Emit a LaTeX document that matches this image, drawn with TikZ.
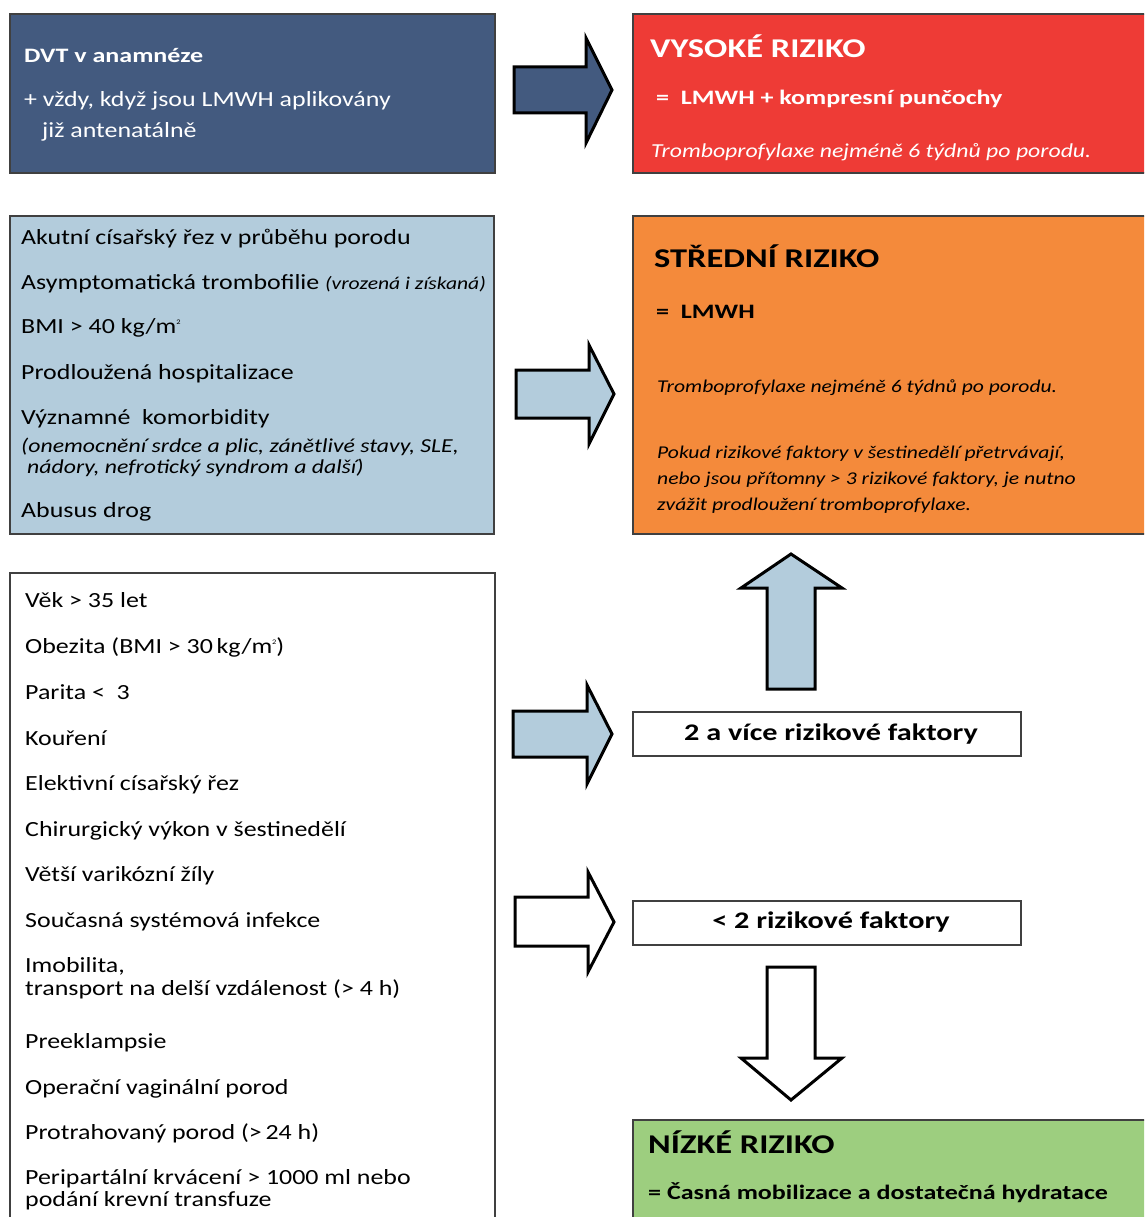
\documentclass[tikz,border=0pt]{standalone}
\usepackage{fontspec}
\setmainfont{Carlito}[FakeStretch=1.2,BoldFeatures={FakeStretch=1.27},BoldItalicFeatures={FakeStretch=1.27}]
\definecolor{dblue}{HTML}{435A7F}
\definecolor{rred}{HTML}{EE3B36}
\definecolor{lblue}{HTML}{B3CCDC}
\definecolor{oorange}{HTML}{F48A3B}
\definecolor{ggreen}{HTML}{9DCE7F}
\definecolor{bordr}{HTML}{404040}
\newcommand{\sqm}{m\raisebox{0.85ex}{\fontsize{7}{7}\selectfont 2}}
\begin{document}
\begin{tikzpicture}[x=1pt,y=-1pt,
  boxstyle/.style={draw=bordr,line width=1.2pt},
  blockarrow/.style={draw=black,line width=3pt,line join=miter},
  txt/.style={anchor=base west,inner sep=0pt,font=\fontsize{21.6}{25}\selectfont},
  itxt/.style={anchor=base west,inner sep=0pt,font=\fontsize{19.8}{23}\selectfont\itshape},
  oitxt/.style={anchor=base west,inner sep=0pt,font=\fontsize{18}{22}\selectfont\itshape},
  ttl/.style={anchor=base west,inner sep=0pt,font=\fontsize{27.1}{31}\selectfont\bfseries},
  btxt/.style={anchor=base west,inner sep=0pt,font=\fontsize{20.5}{24}\selectfont\bfseries},
  lbl/.style={inner sep=0pt,font=\fontsize{23.8}{28}\selectfont\bfseries},
]
\clip (0,0) rectangle (1144,1217);
\fill[white] (0,0) rectangle (1144,1217);

% ---- boxes
\draw[boxstyle,fill=dblue] (10,14) rectangle (495,173);
\draw[boxstyle,fill=rred] (633,14) rectangle (1160,173);
\draw[boxstyle,fill=lblue] (10,216) rectangle (494,534);
\draw[boxstyle,fill=oorange] (633,216) rectangle (1160,534);
\draw[boxstyle,fill=white] (10,573) rectangle (495,1240);
\draw[boxstyle,fill=white] (633,712) rectangle (1021,756);
\draw[boxstyle,fill=white] (633,901) rectangle (1021,945);
\draw[boxstyle,fill=ggreen] (633,1120) rectangle (1160,1240);

% ---- box 1 text
\node[btxt,text=white] (t1) at (24,63) {DVT v anamnéze};
\node[txt,text=white] (t2) at (24,107) {+ vždy, když jsou LMWH aplikovány};
\node[txt,text=white] (t3) at (42,138) {již antenatálně};

% ---- red box
\node[ttl,text=white] (r1) at (650,58) {VYSOKÉ RIZIKO};
\node[btxt,text=white] (r2) at (656,105) {=\ \ LMWH + kompresní punčochy};
\node[itxt,text=white] (r3) at (651,158) {Tromboprofylaxe nejméně 6 týdnů po porodu.};

% ---- box 2 text
\node[txt] (b1) at (21,244) {Akutní císařský řez v průběhu porodu};
\node[txt] (b2) at (21,289) {Asymptomatická trombofilie {\fontsize{18}{22}\selectfont\itshape (vrozená i získaná)}};
\node[txt] (b3) at (21,333) {BMI > 40 kg/\sqm};
\node[txt] (b4) at (21,379) {Prodloužená hospitalizace};
\node[txt] (b5) at (21,424) {Významné\ \ komorbidity};
\node[itxt] (b6) at (21,452) {(onemocnění srdce a plic, zánětlivé stavy, SLE,};
\node[itxt] (b7) at (27,473) {nádory, nefrotický syndrom a další)};
\node[txt] (b8) at (21,517) {Abusus drog};

% ---- orange box
\node[ttl] (o1) at (654,267) {STŘEDNÍ RIZIKO};
\node[btxt] (o2) at (656,318) {=\ \ LMWH};
\node[oitxt] (o3) at (657,392) {Tromboprofylaxe nejméně 6 týdnů po porodu.};
\node[oitxt] (o4) at (657,458) {Pokud rizikové faktory v šestinedělí přetrvávají,};
\node[oitxt] (o5) at (657,484) {nebo jsou přítomny > 3 rizikové faktory, je nutno};
\node[oitxt] (o6) at (657,510) {zvážit prodloužení tromboprofylaxe.};

% ---- box 3 text
\node[txt] (c1) at (25,607) {Věk > 35 let};
\node[txt] (c2) at (25,653) {Obezita (BMI > 30\,kg/\sqm)};
\node[txt] (c3) at (25,699) {Parita <\ \ 3};
\node[txt] (c4) at (25,745) {Kouření};
\node[txt] (c5) at (25,790) {Elektivní císařský řez};
\node[txt] (c6) at (25,836) {Chirurgický výkon v šestinedělí};
\node[txt] (c7) at (25,881) {Větší varikózní žíly};
\node[txt] (c8) at (25,927) {Současná systémová infekce};
\node[txt] (c9) at (25,972) {Imobilita,};
\node[txt] (c10) at (25,995) {transport na delší vzdálenost (> 4 h)};
\node[txt] (c11) at (25,1048) {Preeklampsie};
\node[txt] (c12) at (25,1094) {Operační vaginální porod};
\node[txt] (c13) at (25,1139) {Protrahovaný porod (>\,24 h)};
\node[txt] (c14) at (25,1184) {Peripartální krvácení > 1000 ml nebo};
\node[txt] (c15) at (25,1206) {podání krevní transfuze};

% ---- small boxes
\node[lbl] (f1) at (831,734) {2 a více rizikové faktory};
\node[lbl] (f2) at (831,922) {< 2 rizikové faktory};

% ---- green box
\node[ttl] (g1) at (648,1153) {NÍZKÉ RIZIKO};
\node[btxt] (g2) at (648,1199) {= Časná mobilizace a dostatečná hydratace};

% ---- block arrows
\draw[blockarrow,fill=dblue] (514,67) -- (586,67) -- (586,38) -- (612,90) -- (586,143) -- (586,113) -- (514,113) -- cycle;
\draw[blockarrow,fill=lblue] (516,370) -- (589,370) -- (589,345) -- (614,394) -- (589,444) -- (589,418) -- (516,418) -- cycle;
\draw[blockarrow,fill=lblue] (513,711) -- (587,711) -- (587,685) -- (612,734) -- (587,784) -- (587,757) -- (513,757) -- cycle;
\draw[blockarrow,fill=white] (515,897) -- (588,897) -- (588,872) -- (614,922) -- (588,972) -- (588,946) -- (515,946) -- cycle;
\draw[blockarrow,fill=lblue] (767,689) -- (767,588) -- (741,588) -- (791,554) -- (842,588) -- (815,588) -- (815,689) -- cycle;
\draw[blockarrow,fill=white] (767,967) -- (767,1058) -- (741,1058) -- (791,1100) -- (842,1058) -- (815,1058) -- (815,967) -- cycle;
\end{tikzpicture}
\end{document}
